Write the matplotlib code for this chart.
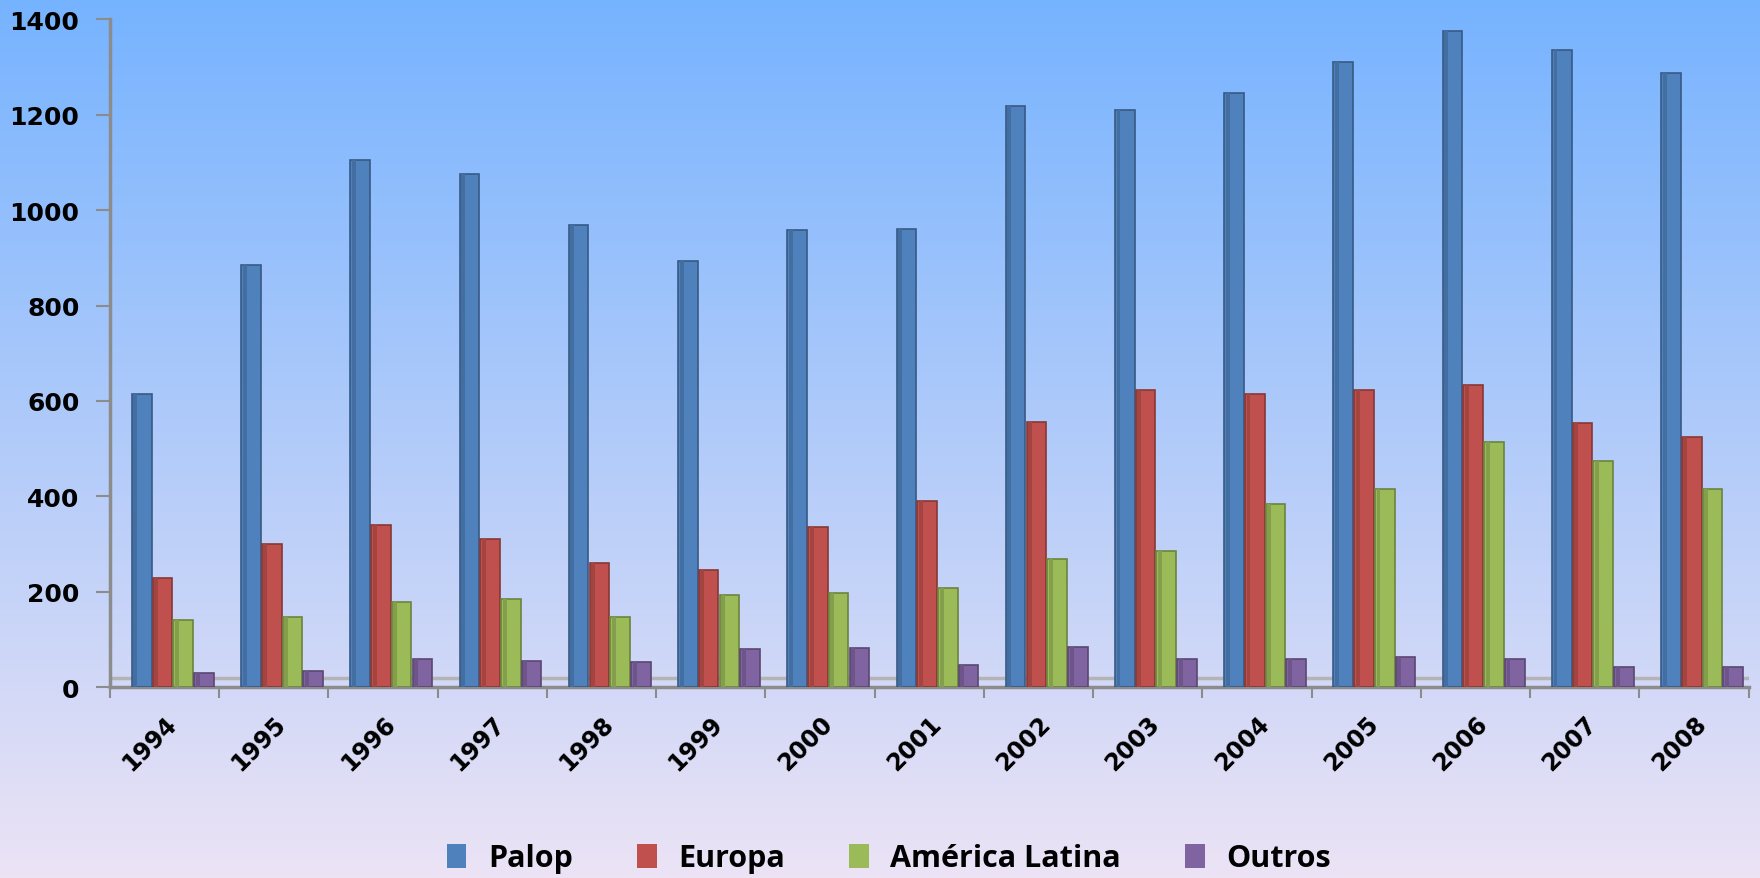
import numpy as np
import matplotlib.pyplot as plt
import matplotlib.colors as mc
from matplotlib.patches import Patch

years = ['1994', '1995', '1996', '1997', '1998', '1999', '2000', '2001',
         '2002', '2003', '2004', '2005', '2006', '2007', '2008']
palop = [614, 885, 1106, 1075, 969, 894, 958, 960, 1219, 1209, 1245, 1311, 1376, 1336, 1287]
europa = [228, 301, 341, 311, 261, 245, 336, 390, 555, 624, 614, 624, 633, 553, 525]
america_latina = [141, 148, 179, 184, 148, 193, 198, 209, 268, 285, 384, 416, 515, 475, 416]
outros = [30, 35, 59, 56, 52, 80, 82, 47, 85, 59, 59, 64, 59, 42, 42]

series = [('Palop', palop, '#4F81BD'),
          ('Europa', europa, '#C0504D'),
          ('América Latina', america_latina, '#9BBB59'),
          ('Outros', outros, '#8064A2')]

plt.rcParams['font.family'] = ['DejaVu Sans']

fig = plt.figure(figsize=(17.6, 8.79), dpi=100)

# background gradient
bg = fig.add_axes([0, 0, 1, 1], zorder=-10)
top = np.array([0x76, 0xB3, 0xFF]) / 255
bot = np.array([0xEC, 0xE3, 0xF5]) / 255
t = np.linspace(0, 1, 256)[:, None]
grad = top * (1 - t) + bot * t
bg.imshow(grad[:, None, :], aspect='auto', extent=[0, 1, 0, 1])
bg.axis('off')

ax = fig.add_axes([0.0625, 0.217, 0.931, 0.760])
ax.patch.set_alpha(0)

x = np.arange(len(years))
offsets = [-0.21, -0.02, 0.17, 0.36]
w = 0.18


def darker(c, f=0.7):
    r, g, b = mc.to_rgb(c)
    return (r * f, g * f, b * f)


for (name, vals, col), off in zip(series, offsets):
    ax.bar(x + off, vals, width=w, color=col, edgecolor=darker(col), linewidth=1.2, zorder=3)
    # darker left strip for a bit of depth
    ax.bar(x + off - w * 0.32, vals, width=w * 0.2, color=darker(col, 0.85), linewidth=0, zorder=4)

# floor line (3D base)
ax.axhline(20, color='#B4B4B4', lw=2.5, zorder=2)

ax.set_xlim(-0.5, len(years) - 0.5)
ax.set_ylim(0, 1400)
ax.set_yticks(range(0, 1401, 200))
ax.set_xticks(np.arange(-0.5, len(years), 1))
ax.set_xticklabels([])
ax.set_xticks(x, minor=True)
ax.set_xticklabels(years, minor=True, rotation=45, ha='right', va='top',
                   rotation_mode='anchor', fontsize=17, fontweight='bold')
ax.tick_params(axis='x', which='minor', length=0, pad=17)
ax.tick_params(axis='x', which='major', length=8, color='#8C8C8C', width=1.5)
ax.tick_params(axis='y', length=10, color='#8C8C8C', width=1.5, labelsize=18, pad=12)
for lab in ax.get_yticklabels():
    lab.set_fontweight('bold')

for s in ['top', 'right']:
    ax.spines[s].set_visible(False)
for s in ['left', 'bottom']:
    ax.spines[s].set_color('#8C8C8C')
    ax.spines[s].set_linewidth(2.5)

handles = [Patch(facecolor=c, label=n) for n, _, c in series]
fig.legend(handles=handles, loc='lower center', bbox_to_anchor=(0.505, -0.026), ncol=4,
           frameon=False, prop={'family': ['Open Sans', 'DejaVu Sans'], 'weight': 'bold', 'size': 22},
           handlelength=0.65, handleheight=0.85, columnspacing=2.1, handletextpad=0.7)

fig.savefig('out.png', dpi=100)
